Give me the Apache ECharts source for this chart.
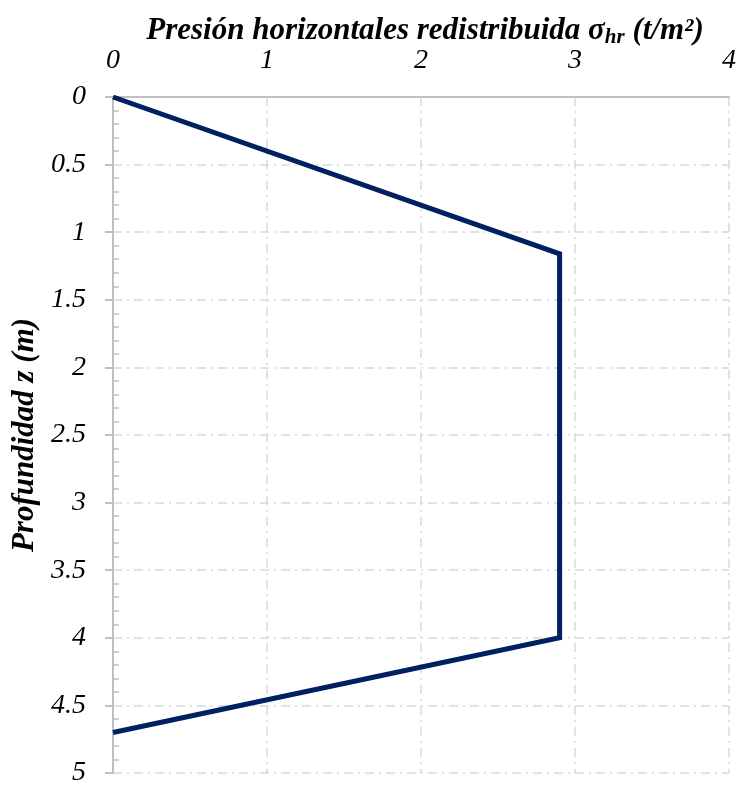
<!DOCTYPE html>
<html><head><meta charset="utf-8">
<script src="https://cdn.jsdelivr.net/npm/echarts@6/dist/echarts.min.js"></script>
<style>html,body{margin:0;padding:0;background:#fff;overflow:hidden}#c{width:739px;height:787px}</style>
</head><body><div id="c"></div>
<script>
const pressure = [0, 2.9, 2.9, 0];
const depth = [0, 1.16, 4.0, 4.7];
const xTicks = [0, 1, 2, 3, 4];
const yTicks = [0, 0.5, 1, 1.5, 2, 2.5, 3, 3.5, 4, 4.5, 5];

const font = 'Liberation Serif, Times New Roman, serif';
const chart = echarts.init(document.getElementById('c'), null, {renderer: 'canvas', width: 739, height: 787});
const grid = {left: 113, right: 9, top: 97, bottom: 11};
const dash = [9, 5, 2, 5];
chart.setOption({
  animation: false,
  title: {
    text: '{t|Presión horizontales redistribuida σ}{s|hr}{t| (t/m²)}',
    left: 420, top: 8, textAlign: 'center',
    textStyle: {
      rich: {
        t: {fontFamily: font, fontStyle: 'italic', fontWeight: 'bold', fontSize: 31, color: '#000'},
        s: {fontFamily: font, fontStyle: 'italic', fontWeight: 'bold', fontSize: 21, color: '#000', verticalAlign: 'bottom', padding: [14, 0, 0, 0]}
      }
    }
  },
  grid: grid,
  xAxis: {
    type: 'value', position: 'top', min: xTicks[0], max: xTicks[xTicks.length - 1], interval: 1,
    axisLine: {show: true, lineStyle: {color: '#bfbfbf', width: 2}},
    axisTick: {show: false},
    axisLabel: {fontFamily: font, fontStyle: 'italic', fontSize: 28, color: '#000', margin: 22},
    splitLine: {show: true, lineStyle: {color: '#d9d9d9', width: 1.5, type: dash}}
  },
  yAxis: [{
    type: 'value', inverse: true, min: yTicks[0], max: yTicks[yTicks.length - 1], interval: 0.5,
    name: 'Profundidad z (m)', nameLocation: 'middle', nameGap: 69, nameRotate: 90,
    nameTextStyle: {fontFamily: font, fontStyle: 'italic', fontWeight: 'bold', fontSize: 31, color: '#000'},
    axisLine: {show: true, lineStyle: {color: '#bfbfbf', width: 2}},
    axisTick: {show: true, inside: false, length: 8, lineStyle: {color: '#bfbfbf', width: 2}},
    axisLabel: {fontFamily: font, fontStyle: 'italic', fontSize: 28, color: '#000', margin: 27},
    splitLine: {show: true, lineStyle: {color: '#d9d9d9', width: 1.5, type: dash}}
  }, {
    type: 'value', inverse: true, position: 'left', offset: 0, min: 0, max: 5, interval: 0.5,
    axisLine: {show: false},
    axisTick: {show: false, inside: true},
    minorTick: {show: true, splitNumber: 5, length: 6, lineStyle: {color: '#bfbfbf', width: 1.5}},
    axisLabel: {show: false},
    splitLine: {show: false}
  }],
  series: [{
    type: 'line',
    data: pressure.map((p, i) => [p, depth[i]]),
    showSymbol: false, symbol: 'none',
    lineStyle: {color: '#002060', width: 5, join: 'miter'},
    itemStyle: {color: '#002060'}
  }]
});
</script></body></html>
